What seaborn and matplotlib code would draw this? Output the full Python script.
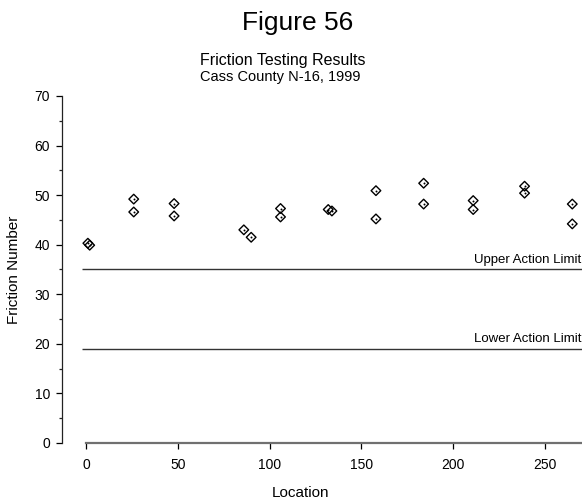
import numpy as np
import pandas as pd
import matplotlib
matplotlib.use('Agg')
import matplotlib.pyplot as plt
import seaborn as sns
from matplotlib.ticker import MultipleLocator

sns.set_style('ticks')
plt.rcParams['font.family'] = ['Liberation Sans', 'DejaVu Sans']
plt.rcParams['text.color'] = 'black'
plt.rcParams['axes.labelcolor'] = 'black'

# =====
# DATA
# =====
location = [1, 2, 26, 26, 48, 48, 86, 90, 106, 106, 132, 134,
            158, 158, 184, 184, 211, 211, 239, 239, 265, 265]
friction = [40.3, 39.9, 49.2, 46.6, 48.3, 45.8, 43.0, 41.5, 47.3, 45.6, 47.1, 46.8,
            50.9, 45.2, 52.4, 48.2, 48.9, 47.1, 51.8, 50.4, 48.2, 44.2]

upper_limit = 35
lower_limit = 19
limit_start = -2
x_min, x_max = -13.1, 270.3
y_min, y_max = 0, 70

df = pd.DataFrame({'Location': location, 'Friction Number': friction})

# ======
# FIGURE
# ======
fig = plt.figure(figsize=(5.82, 5.01), dpi=100)
ax = fig.add_axes([0.1065, 0.1158, 0.8935, 0.6926])

# action limit lines
ax.hlines([upper_limit, lower_limit], limit_start, x_max, colors='#333333', linewidth=1)
ax.text(x_max - 0.5, upper_limit + 0.8, 'Upper Action Limit', ha='right', va='bottom',
        fontsize=9.5)
ax.text(x_max - 0.5, lower_limit + 0.8, 'Lower Action Limit', ha='right', va='bottom',
        fontsize=9.5)

# diamonds with a centre dot
sns.scatterplot(data=df, x='Location', y='Friction Number', marker='D', s=24,
                facecolor='none', edgecolor='black', linewidth=1, ax=ax, zorder=3)
sns.scatterplot(data=df, x='Location', y='Friction Number', marker='o', s=2,
                color='black', linewidth=0, ax=ax, zorder=4)

ax.set_xlim(x_min, x_max)
ax.set_ylim(y_min, y_max)
ax.set_xticks(np.arange(0, 251, 50))
ax.yaxis.set_major_locator(MultipleLocator(10))
ax.yaxis.set_minor_locator(MultipleLocator(5))

for side in ['top', 'right']:
    ax.spines[side].set_visible(False)
ax.spines['left'].set_color('#222222')
ax.spines['left'].set_linewidth(0.9)
ax.spines['bottom'].set_bounds(0, x_max)
ax.spines['bottom'].set_color('#707070')
ax.spines['bottom'].set_linewidth(1.6)

ax.tick_params(axis='y', which='major', length=4.5, width=0.9, pad=4,
               labelsize=10, colors='black')
ax.tick_params(axis='y', which='minor', length=2.5, width=0.9, color='#222222')
ax.tick_params(axis='x', which='major', length=4, width=0.9, pad=7,
               labelsize=10, colors='black')

ax.set_xlabel('Location', fontsize=11)
ax.set_ylabel('Friction Number', fontsize=11)
ax.xaxis.set_label_coords(0.458, -0.124)
ax.yaxis.set_label_coords(-0.078, 0.5)

fig.text(0.512, 0.954, 'Figure 56', ha='center', va='center', fontsize=19)
fig.text(0.344, 0.880, 'Friction Testing Results', ha='left', va='center', fontsize=11.5)
fig.text(0.344, 0.846, 'Cass County N-16, 1999', ha='left', va='center', fontsize=10.5)

fig.savefig('out.png', dpi=100)
plt.close()
